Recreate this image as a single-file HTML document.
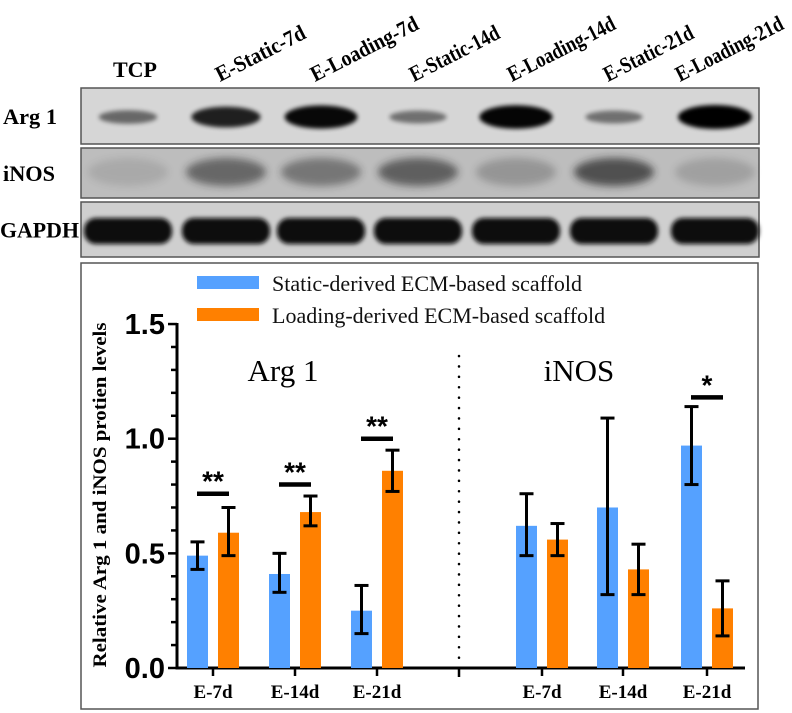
<!DOCTYPE html>
<html><head><meta charset="utf-8"><style>
body{margin:0;background:#fff;width:792px;height:713px;overflow:hidden;font-family:"Liberation Serif",serif}
svg{position:absolute;left:0;top:0}
</style></head><body>
<svg width="792" height="713" viewBox="0 0 792 713">
<defs>
<filter id="bl" x="-50%" y="-100%" width="200%" height="300%"><feGaussianBlur stdDeviation="4"/></filter>
<filter id="bl2" x="-50%" y="-100%" width="200%" height="300%"><feGaussianBlur stdDeviation="2"/></filter>
</defs>
<g id="blot"></g>
<g id="chart"></g>
</svg>
<script>
const NS='http://www.w3.org/2000/svg';
function mk(p,t,a){const e=document.createElementNS(NS,t);for(const k in a)e.setAttribute(k,a[k]);p.appendChild(e);return e;}
// ---------- blot ----------
const lanes=['TCP','E-Static-7d','E-Loading-7d','E-Static-14d','E-Loading-14d','E-Static-21d','E-Loading-21d'];
const laneX=[128,226,321,418,516,614,715];
const labelX=[113,220,315,414,512,608,680];
const argI=[0.35,0.8,0.95,0.3,0.97,0.3,1.0];
const inosI=[0.12,0.55,0.45,0.6,0.25,0.7,0.18];
const blot=document.getElementById('blot');
const rows=[{n:'Arg 1',y:88,h:56,bg:'#d6d6d6'},{n:'iNOS',y:148,h:50,bg:'#bdbdbd'},{n:'GAPDH',y:202,h:55,bg:'#cfcfcf'}];
rows.forEach((r,ri)=>{
  const s=mk(blot,'rect',{x:81,y:r.y,width:678,height:r.h,fill:r.bg,stroke:'#555','stroke-width':1.5});
  
  
  const t=mk(blot,'text',{x:ri==2?0:3,y:r.y+r.h/2+8,'font-size':22,'font-weight':'bold',fill:'#000',textLength:ri==2?79:(ri==0?54:52),lengthAdjust:'spacingAndGlyphs'});
  t.textContent=r.n;
  
  
});
laneX.forEach((x,i)=>{
  let a=argI[i];
  const b1=mk(blot,'ellipse',{cx:x,cy:117,rx:25+a*12,ry:4+a*8,fill:'#000',opacity:0.25+a*0.75,filter:'url(#bl2)'});
  
  
  let b=inosI[i];
  const b2=mk(blot,'ellipse',{cx:x,cy:172,rx:40,ry:14,fill:'#222',opacity:b,filter:'url(#bl)'});
  
  
  const b3=mk(blot,'rect',{x:x-44,y:218,width:88,height:26,rx:12,fill:'#080808',filter:'url(#bl2)'});
  
  
  const lx=labelX[i], ly=i==0?77:82;
  const len=lanes[i].includes('Loading')?118:98;
  const t=mk(blot,'text',{x:lx,y:ly,'font-size':22,'font-weight':'bold',fill:'#000'});
  if(i>0){t.setAttribute('transform',`rotate(-27 ${lx} ${ly})`);t.setAttribute('textLength',len);t.setAttribute('lengthAdjust','spacingAndGlyphs');}
  t.textContent=lanes[i];
  
  
});
// ---------- chart ----------
const groups=['E-7d','E-14d','E-21d','E-7d','E-14d','E-21d'];
const staticVals=[0.49,0.41,0.25,0.62,0.70,0.97];
const staticLo=[0.43,0.33,0.15,0.49,0.32,0.80];
const staticHi=[0.55,0.50,0.36,0.76,1.09,1.14];
const loadVals=[0.59,0.68,0.86,0.56,0.43,0.26];
const loadLo=[0.49,0.62,0.77,0.49,0.32,0.14];
const loadHi=[0.70,0.75,0.95,0.63,0.54,0.38];
const yTicks=[0,0.5,1.0,1.5];
const yTickLabels=['0.0','0.5','1.0','1.5'];
const sig=[{g:0,t:'**',v:0.76},{g:1,t:'**',v:0.80},{g:2,t:'**',v:1.0},{g:5,t:'*',v:1.18}];
const groupX=[213,295,377,542,623,707];
const y0=668,yPer=229.3;
const Y=v=>y0-v*yPer;
const ch=document.getElementById('chart');
const box=mk(ch,'rect',{x:81,y:263,width:677,height:446,fill:'none',stroke:'#555','stroke-width':1.5});


// legend
[['#55a1ff','Static-derived ECM-based scaffold',286],['#ff8000','Loading-derived ECM-based scaffold',318]].forEach(l=>{
  const r=mk(ch,'rect',{x:197,y:l[2]-10,width:62,height:13,fill:l[0]});
  
  
  const t=mk(ch,'text',{x:272,y:l[2]+5,'font-size':22,fill:'#111'});t.textContent=l[1];
  
  
});
// axes
mk(ch,'line',{x1:177,y1:Y(1.5)-1,x2:177,y2:y0+1.5,stroke:'#000','stroke-width':3});
mk(ch,'line',{x1:176,y1:y0,x2:745,y2:y0,stroke:'#000','stroke-width':3});
for(let v=0;v<=1.5001;v+=0.1){
  const major=Math.abs(v*2-Math.round(v*2))<1e-6;
  mk(ch,'line',{x1:major?168:171,y1:Y(v),x2:177,y2:Y(v),stroke:'#000','stroke-width':2.5});
}
yTicks.forEach((v,i)=>{
  const t=mk(ch,'text',{x:165,y:Y(v)+10,'font-size':29,'font-weight':'bold','text-anchor':'end','font-family':'Liberation Sans, sans-serif'});
  t.textContent=yTickLabels[i];
  
  
});
const yt=mk(ch,'text',{x:0,y:0,'font-size':19,'font-weight':'bold','text-anchor':'middle',textLength:345,lengthAdjust:'spacingAndGlyphs',transform:'translate(106 495) rotate(-90)'});
yt.textContent='Relative Arg 1 and iNOS protien levels';


// divider
mk(ch,'line',{x1:459,y1:356,x2:459,y2:y0,stroke:'#000','stroke-width':2.5,'stroke-dasharray':'0.1 10.3','stroke-linecap':'round'});
mk(ch,'line',{x1:459,y1:y0,x2:459,y2:y0+9,stroke:'#000','stroke-width':2.5});
[['Arg 1',283],['iNOS',579]].forEach(p=>{const t=mk(ch,'text',{x:p[1],y:381,'font-size':31,'text-anchor':'middle'});t.textContent=p[0];
  });
function err(x,lo,hi){
  mk(ch,'line',{x1:x,y1:Y(hi),x2:x,y2:Y(lo),stroke:'#000','stroke-width':3});
  mk(ch,'line',{x1:x-7,y1:Y(hi),x2:x+7,y2:Y(hi),stroke:'#000','stroke-width':3});
  mk(ch,'line',{x1:x-7,y1:Y(lo),x2:x+7,y2:Y(lo),stroke:'#000','stroke-width':3});
}
groups.forEach((g,i)=>{
  const cx=groupX[i];
  const b1=mk(ch,'rect',{x:cx-26,y:Y(staticVals[i]),width:21,height:y0-Y(staticVals[i]),fill:'#55a1ff'});
  
  
  const b2=mk(ch,'rect',{x:cx+5,y:Y(loadVals[i]),width:21,height:y0-Y(loadVals[i]),fill:'#ff8000'});
  
  
  err(cx-15.5,staticLo[i],staticHi[i]);
  err(cx+15.5,loadLo[i],loadHi[i]);
  mk(ch,'line',{x1:cx,y1:y0,x2:cx,y2:y0+8,stroke:'#000','stroke-width':2.5});
  const t=mk(ch,'text',{x:cx,y:y0+30,'font-size':19,'font-weight':'bold','text-anchor':'middle'});t.textContent=g;
  
  
});
sig.forEach(s=>{
  const cx=groupX[s.g];
  mk(ch,'line',{x1:cx-16,y1:Y(s.v),x2:cx+16,y2:Y(s.v),stroke:'#000','stroke-width':4.5});
  const t=mk(ch,'text',{x:cx,y:Y(s.v)-3,'font-size':28,'font-weight':'bold','text-anchor':'middle','font-family':'Liberation Sans, sans-serif'});
  t.textContent=s.t;
  
  
});
</script>
</body></html>
